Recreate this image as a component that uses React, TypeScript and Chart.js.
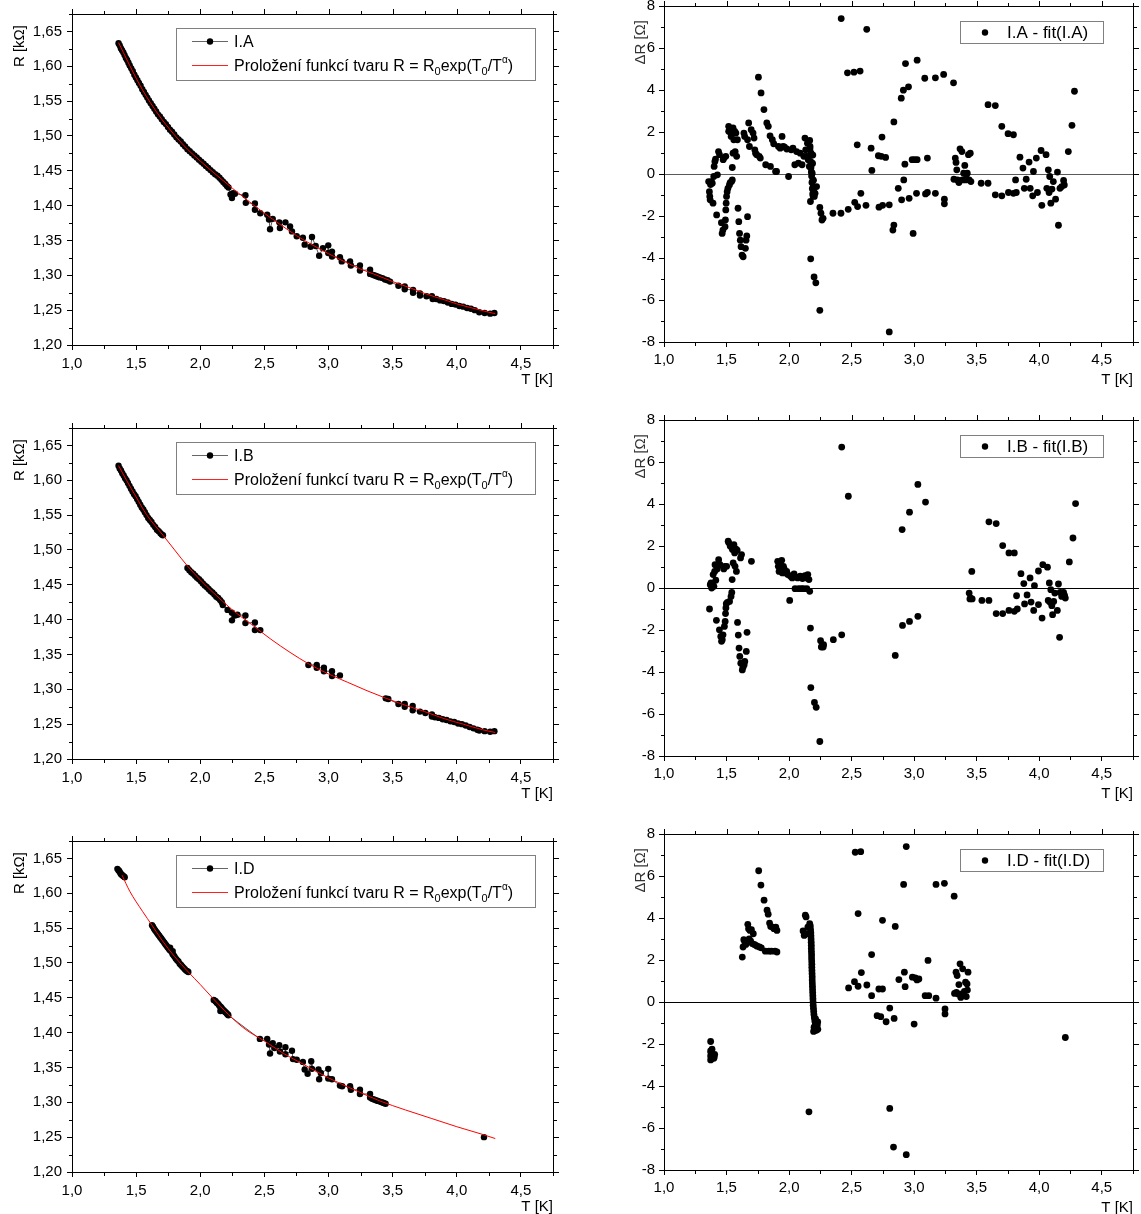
import React, { useEffect, useRef } from 'react';
import { Chart, registerables } from 'chart.js';

Chart.register(...registerables);

const FONT_FAMILY = '"Liberation Sans", Arial, Helvetica, sans-serif';

type Pt = [number, number | null];
type Seg = { t: string; s?: 'sub' | 'sup' };

// ---------- axis ticks ----------
const T_TICKS = [1.0, 1.5, 2.0, 2.5, 3.0, 3.5, 4.0, 4.5];
const T_MINOR = [1.25, 1.75, 2.25, 2.75, 3.25, 3.75, 4.25, 4.75];
const T_RANGE = [1.0, 4.75];
const R_TICKS = [1.2, 1.25, 1.3, 1.35, 1.4, 1.45, 1.5, 1.55, 1.6, 1.65];
const R_MINOR = [1.225, 1.275, 1.325, 1.375, 1.425, 1.475, 1.525, 1.575, 1.625, 1.675];
const R_RANGE = [1.2, 1.675];
const DR_TICKS = [-8, -6, -4, -2, 0, 2, 4, 6, 8];
const DR_MINOR = [-7, -5, -3, -1, 1, 3, 5, 7];
const DR_RANGE = [-8, 8];

// ---------- labels ----------
const X_TITLE = 'T [K]';
const R_TITLE = 'R [kΩ]';
const DR_TITLE = 'ΔR [Ω]';
const SERIES_NAMES = ['I.A', 'I.B', 'I.D'];
const FIT_LABEL: Seg[] = [
  { t: 'Proložení funkcí tvaru R = R' },
  { t: '0', s: 'sub' },
  { t: 'exp(T' },
  { t: '0', s: 'sub' },
  { t: '/T' },
  { t: 'α', s: 'sup' },
  { t: ')' },
];

// ---------- I.A ----------
const IA_DATA: Pt[] = [
  [1.363, 1.633], [1.372, 1.630], [1.381, 1.626], [1.390, 1.623], [1.400, 1.620], [1.410, 1.616], [1.420, 1.612],
  [1.430, 1.609], [1.440, 1.605], [1.450, 1.601], [1.462, 1.597], [1.474, 1.593], [1.486, 1.588], [1.498, 1.584],
  [1.510, 1.580], [1.522, 1.576], [1.535, 1.572], [1.548, 1.567], [1.561, 1.563], [1.574, 1.559], [1.587, 1.555],
  [1.600, 1.551], [1.614, 1.547], [1.628, 1.543], [1.642, 1.539], [1.656, 1.535], [1.670, 1.531], [1.685, 1.528],
  [1.700, 1.524], [1.716, 1.520], [1.732, 1.517], [1.748, 1.513], [1.764, 1.509], [1.780, 1.506], [1.797, 1.502],
  [1.814, 1.498], [1.831, 1.495], [1.848, 1.492], [1.865, 1.488], [1.882, 1.485], [1.900, 1.481], [1.918, 1.478],
  [1.936, 1.475], [1.954, 1.472], [1.972, 1.469], [1.990, 1.466], [2.008, 1.463], [2.026, 1.460], [2.044, 1.457],
  [2.062, 1.454], [2.080, 1.451], [2.098, 1.448], [2.116, 1.445], [2.134, 1.443], [2.150, 1.440], [2.165, 1.437],
  [2.180, 1.434], [2.195, 1.431], [2.208, 1.428], [2.220, 1.426], [2.236, 1.416], [2.247, 1.411], [2.255, 1.418],
  [2.270, 1.417], [2.352, 1.415], [2.355, 1.404], [2.426, 1.403], [2.426, 1.394], [2.468, 1.389], [2.522, 1.387],
  [2.536, 1.380], [2.544, 1.366], [2.565, 1.381], [2.616, 1.376], [2.621, 1.368], [2.664, 1.376], [2.700, 1.370],
  [2.715, 1.363], [2.752, 1.356], [2.800, 1.354], [2.814, 1.344], [2.860, 1.341], [2.871, 1.355], [2.900, 1.342],
  [2.927, 1.328], [2.956, 1.339], [2.998, 1.343], [2.998, 1.332], [3.027, 1.334], [3.027, 1.327], [3.089, 1.326],
  [3.103, 1.320], [3.168, 1.320], [3.174, 1.314], [3.245, 1.314], [3.245, 1.307], [3.324, 1.308], [3.324, 1.302],
  [3.340, 1.301], [3.355, 1.300], [3.370, 1.299], [3.385, 1.298], [3.400, 1.297], [3.420, 1.296], [3.440, 1.294],
  [3.460, 1.293], [3.480, 1.291], [3.545, 1.285], [3.594, 1.284], [3.594, 1.280], [3.659, 1.279], [3.659, 1.275],
  [3.713, 1.274], [3.713, 1.271], [3.764, 1.270], [3.806, 1.270], [3.812, 1.266], [3.840, 1.266], [3.870, 1.264],
  [3.900, 1.263], [3.930, 1.261], [3.960, 1.259], [3.990, 1.258], [4.020, 1.256], [4.050, 1.255], [4.080, 1.253],
  [4.110, 1.252], [4.140, 1.250], [4.175, 1.247], [4.217, 1.246], [4.260, 1.245], [4.293, 1.246],
];
const IA_FIT: Pt[] = [
  [1.363, 1.634], [1.40, 1.620], [1.45, 1.601], [1.50, 1.583], [1.55, 1.566], [1.61, 1.548], [1.70, 1.524],
  [1.82, 1.497], [1.90, 1.481], [2.00, 1.464], [2.10, 1.448], [2.25, 1.425], [2.40, 1.403], [2.50, 1.389],
  [2.63, 1.372], [2.75, 1.357], [2.88, 1.343], [3.00, 1.331], [3.12, 1.320], [3.25, 1.309], [3.35, 1.302],
  [3.50, 1.291], [3.65, 1.281], [3.75, 1.274], [3.90, 1.265], [4.00, 1.259], [4.10, 1.254], [4.25, 1.247], [4.30, 1.245],
];
const IA_RES: Pt[] = [
  [1.357, -0.36], [1.363, -0.84], [1.366, -1.07], [1.369, -1.23], [1.372, -0.5], [1.378, -0.36], [1.386, -0.44],
  [1.392, -1.39], [1.398, -0.12], [1.401, 0.36], [1.407, 0.60], [1.412, 0.71], [1.421, -1.95], [1.427, -0.04],
  [1.436, 1.07], [1.444, 0.92], [1.459, -2.32], [1.465, -2.83], [1.471, -2.67], [1.473, 0.68], [1.479, 0.76],
  [1.488, -2.51], [1.491, -2.19], [1.494, -1.71], [1.494, 0.84], [1.497, -1.39], [1.500, -1.07], [1.505, -0.84],
  [1.511, -0.68], [1.517, 2.27], [1.517, 2.03], [1.523, -0.52], [1.529, -0.41], [1.534, 1.95], [1.537, 1.79],
  [1.540, -0.36], [1.546, 0.31], [1.546, -0.28], [1.552, 2.19], [1.552, 0.99], [1.558, 1.63], [1.566, 2.03],
  [1.569, 1.07], [1.575, 1.95], [1.581, 0.84], [1.587, 1.63], [1.592, -1.63], [1.598, -2.27], [1.604, -2.83],
  [1.610, -3.15], [1.616, -3.46], [1.624, -3.86], [1.633, -3.94], [1.639, 1.95], [1.645, 1.79], [1.651, -3.54],
  [1.656, -3.15], [1.662, -2.95], [1.668, -2.03], [1.668, 1.63], [1.677, 2.43], [1.683, 1.31], [1.697, 2.11],
  [1.712, 1.95], [1.720, 1.71], [1.726, 1.15], [1.732, 0.99], [1.741, 0.92], [1.755, 4.61], [1.761, 0.84],
  [1.770, 0.76], [1.776, 3.86], [1.799, 3.07], [1.813, 0.44], [1.822, 2.43], [1.834, 2.27], [1.848, 1.82],
  [1.851, 0.36], [1.866, 1.63], [1.877, 1.44], [1.892, 0.12], [1.900, 0.12], [1.915, 1.31], [1.929, 1.23],
  [1.944, 1.79], [1.953, 1.31], [1.964, 1.28], [1.982, 1.19], [1.996, -0.12], [2.017, 1.15], [2.031, 1.23],
  [2.046, 0.44], [2.060, 1.07], [2.075, 0.52], [2.089, 0.99], [2.104, 0.44], [2.118, 0.84], [2.127, 1.71],
  [2.133, 1.15], [2.139, 0.84], [2.147, 1.47], [2.153, 0.68], [2.162, 0.36], [2.165, 1.6], [2.167, 1.2],
  [2.168, 1.31], [2.170, 0.9], [2.171, -1.31], [2.172, 0.6], [2.173, -4.04], [2.175, 0.3], [2.176, 0.99],
  [2.178, 0.1], [2.180, -0.1], [2.182, 0.52], [2.183, -0.4], [2.185, 0.04], [2.186, -0.7], [2.188, 0.5],
  [2.189, -0.95], [2.190, 0.9], [2.191, -0.28], [2.192, -1.05], [2.194, -0.60], [2.195, -0.3], [2.197, -0.84],
  [2.200, -4.90], [2.202, -1.07], [2.208, -0.92], [2.214, -5.18], [2.220, -0.60], [2.246, -1.59], [2.246, -6.49],
  [2.255, -1.87], [2.263, -2.19], [2.272, -2.11], [2.351, -1.87], [2.415, -1.87], [2.417, 7.40], [2.467, 4.82],
  [2.473, -1.68], [2.519, 4.85], [2.525, -1.35], [2.545, 1.39], [2.548, -1.55], [2.568, 4.90], [2.574, -0.92],
  [2.615, -1.49], [2.621, 6.89], [2.656, 1.23], [2.662, 0.17], [2.714, 0.87], [2.719, -1.58], [2.737, 0.84],
  [2.743, 1.76], [2.748, -1.49], [2.772, 0.79], [2.801, -1.47], [2.801, -7.52], [2.830, -2.67], [2.838, -2.43],
  [2.838, 2.48], [2.873, -0.68], [2.897, 3.61], [2.900, -1.23], [2.914, 3.99], [2.917, -0.28], [2.926, 0.47],
  [2.931, 5.26], [2.955, 4.15], [2.960, -1.16], [2.984, 0.68], [2.992, -2.83], [3.004, 0.68], [3.024, 5.42],
  [3.019, -0.92], [3.024, 0.68], [3.085, 4.56], [3.091, -0.95], [3.106, 0.76], [3.106, -0.88], [3.170, 4.58],
  [3.170, -0.92], [3.236, 4.74], [3.242, -1.20], [3.242, -1.42], [3.315, 4.34], [3.318, -0.25], [3.329, 0.76],
  [3.335, 0.55], [3.341, 0.20], [3.347, -0.28], [3.358, -0.41], [3.367, 1.20], [3.382, 1.07], [3.387, -0.28],
  [3.396, 0.04], [3.405, 0.41], [3.411, -0.28], [3.417, -0.04], [3.425, 0.04], [3.434, 0.92], [3.440, -0.28],
  [3.449, 0.99], [3.454, -0.36], [3.536, -0.44], [3.591, 3.30], [3.591, -0.44], [3.649, 3.26], [3.649, -0.99],
  [3.701, 2.27], [3.701, -1.04], [3.751, 1.92], [3.754, -0.88], [3.794, 1.87], [3.794, -0.92], [3.811, -0.28],
  [3.817, -0.88], [3.846, 0.80], [3.870, 0.28], [3.881, -0.68], [3.896, -0.25], [3.919, 0.57], [3.928, -0.68],
  [3.948, -1.04], [3.954, 0.12], [3.977, 0.76], [3.986, -0.88], [4.015, 1.12], [4.021, -1.49], [4.055, 0.92],
  [4.061, -0.68], [4.073, 0.20], [4.079, -0.88], [4.084, -0.12], [4.093, -1.39], [4.102, -0.72], [4.113, -0.36],
  [4.131, -1.20], [4.146, 0.09], [4.154, -2.44], [4.166, -0.68], [4.180, -0.60], [4.195, -0.31], [4.201, -0.52],
  [4.233, 1.07], [4.262, 2.32], [4.282, 3.94],
];

// ---------- I.B ----------
const IB_DATA: Pt[] = [
  [1.363, 1.621], [1.372, 1.617], [1.382, 1.614], [1.392, 1.610], [1.403, 1.607], [1.414, 1.603], [1.425, 1.600],
  [1.436, 1.596], [1.448, 1.592], [1.460, 1.588], [1.472, 1.584], [1.484, 1.580], [1.496, 1.577], [1.508, 1.573],
  [1.520, 1.569], [1.532, 1.565], [1.544, 1.561], [1.556, 1.558], [1.568, 1.554], [1.581, 1.550], [1.594, 1.546],
  [1.607, 1.543], [1.620, 1.540], [1.634, 1.536], [1.648, 1.533], [1.662, 1.529], [1.676, 1.527], [1.690, 1.524],
  [1.700, 1.522], [1.709, 1.521], [1.800, null],
  [1.900, 1.474], [1.915, 1.471], [1.930, 1.468], [1.945, 1.466], [1.960, 1.463], [1.975, 1.460], [1.990, 1.458],
  [2.005, 1.455], [2.020, 1.452], [2.035, 1.449], [2.050, 1.447], [2.065, 1.444], [2.080, 1.441], [2.095, 1.439],
  [2.110, 1.436], [2.125, 1.433], [2.140, 1.431], [2.155, 1.428], [2.168, 1.425], [2.176, 1.421], [2.213, 1.414],
  [2.247, 1.410], [2.247, 1.399], [2.270, 1.406], [2.290, 1.407], [2.352, 1.406], [2.352, 1.395], [2.426, 1.396],
  [2.426, 1.385], [2.468, 1.385], [2.600, null],
  [2.843, 1.335], [2.908, 1.335], [2.908, 1.331], [2.964, 1.331], [2.964, 1.326], [3.027, 1.326], [3.027, 1.319],
  [3.089, 1.320], [3.300, null],
  [3.446, 1.287], [3.466, 1.286], [3.545, 1.279], [3.594, 1.279], [3.594, 1.275], [3.656, 1.276], [3.656, 1.270],
  [3.713, 1.268], [3.755, 1.266], [3.806, 1.264], [3.806, 1.261], [3.830, 1.260], [3.860, 1.259], [3.890, 1.257],
  [3.920, 1.256], [3.950, 1.254], [3.980, 1.253], [4.010, 1.251], [4.040, 1.250], [4.070, 1.248], [4.100, 1.246],
  [4.130, 1.244], [4.160, 1.242], [4.175, 1.241], [4.217, 1.240], [4.260, 1.239], [4.293, 1.240],
];
const IB_FIT: Pt[] = [
  [1.363, 1.621], [1.425, 1.600], [1.50, 1.576], [1.58, 1.551], [1.71, 1.521], [1.80, 1.500], [1.90, 1.477],
  [2.00, 1.457], [2.10, 1.439], [2.25, 1.414], [2.40, 1.393], [2.55, 1.372], [2.70, 1.353], [2.85, 1.336],
  [3.00, 1.322], [3.15, 1.310], [3.30, 1.298], [3.45, 1.287], [3.60, 1.277], [3.75, 1.268], [3.90, 1.258],
  [4.05, 1.250], [4.20, 1.242], [4.30, 1.238],
];
const IB_RES: Pt[] = [
  [1.364, -1.00], [1.370, 0.16], [1.376, 0.24], [1.381, 0.00], [1.387, 0.21], [1.393, 0.64], [1.399, 0.08],
  [1.405, 0.79], [1.408, 1.11], [1.414, 0.37], [1.419, -1.54], [1.425, 0.91], [1.431, 1.03], [1.437, 1.35],
  [1.443, -1.99], [1.448, 1.11], [1.454, -2.31], [1.460, -2.54], [1.466, -2.46], [1.472, -2.23], [1.478, 0.91],
  [1.483, -1.83], [1.486, 1.03], [1.489, -1.59], [1.492, -1.22], [1.495, -0.95], [1.498, -0.75], [1.501, 1.03],
  [1.507, -0.68], [1.513, 2.23], [1.518, 2.15], [1.524, -0.64], [1.530, 1.99], [1.536, -0.40], [1.542, -0.21],
  [1.545, 0.40], [1.547, 1.83], [1.553, 1.19], [1.559, 2.07], [1.565, 1.67], [1.568, 1.03], [1.574, 1.86],
  [1.579, 0.79], [1.585, 1.80], [1.588, -1.64], [1.594, -2.24], [1.600, -2.86], [1.606, -3.26], [1.612, 1.43],
  [1.614, -3.58], [1.620, 1.59], [1.626, -3.90], [1.632, -3.77], [1.641, -3.66], [1.646, -3.50], [1.658, -3.02],
  [1.664, -2.11], [1.699, 1.27],
  [1.909, 1.27], [1.914, 1.03], [1.920, 0.79], [1.926, 1.16], [1.932, 0.91], [1.941, 1.32], [1.946, 0.72],
  [1.955, 1.03], [1.961, 0.91], [1.970, 0.72], [1.981, 0.79], [1.990, 0.64], [2.005, -0.59], [2.011, 0.56],
  [2.025, 0.48], [2.040, 0.67], [2.048, -0.03], [2.054, 0.52], [2.069, 0.48], [2.077, -0.03], [2.089, 0.56],
  [2.098, -0.03], [2.107, 0.45], [2.115, -0.03], [2.127, 0.59], [2.136, 0.48], [2.142, -0.03], [2.150, 0.64],
  [2.159, 0.40], [2.165, -0.16], [2.171, -1.91], [2.174, -4.74], [2.203, -5.45], [2.217, -5.68], [2.246, -7.31],
  [2.252, -2.51], [2.258, -2.81], [2.273, -2.81], [2.276, -2.70], [2.354, -2.46], [2.421, -2.23], [2.421, 6.71],
  [2.474, 4.37], [2.849, -3.21], [2.904, 2.78], [2.907, -1.78], [2.963, 3.61], [2.963, -1.59], [3.030, 4.93],
  [3.030, -1.35], [3.091, 4.09],
  [3.440, -0.24], [3.446, -0.52], [3.452, -0.48], [3.461, 0.79], [3.464, -0.52], [3.542, -0.59], [3.598, 3.15],
  [3.598, -0.59], [3.656, 3.07], [3.656, -1.22], [3.708, 2.02], [3.708, -1.22], [3.758, 1.67], [3.758, -1.07],
  [3.801, 1.67], [3.801, -1.11], [3.819, -0.37], [3.825, -1.00], [3.854, 0.68], [3.877, 0.21], [3.883, -0.76],
  [3.903, -0.33], [3.927, 0.48], [3.935, -0.67], [3.956, -1.07], [3.962, 0.11], [3.994, 0.81], [3.994, -0.79],
  [4.023, -1.43], [4.029, 1.11], [4.066, 0.99], [4.072, -0.59], [4.081, 0.24], [4.087, -0.68], [4.093, -0.08],
  [4.101, -0.84], [4.107, -1.27], [4.116, -0.64], [4.125, -0.24], [4.145, -1.07], [4.154, 0.19], [4.163, -2.35],
  [4.168, -0.21], [4.180, -0.40], [4.195, -0.21], [4.203, -0.35], [4.209, -0.48], [4.241, 1.24], [4.270, 2.38],
  [4.291, 4.02],
];

// ---------- I.D ----------
const ID_DATA: Pt[] = [
  [1.354, 1.635], [1.362, 1.633], [1.368, 1.632], [1.374, 1.630], [1.380, 1.628], [1.386, 1.627], [1.392, 1.626],
  [1.398, 1.625], [1.404, 1.624], [1.411, 1.623], [1.500, null],
  [1.624, 1.554], [1.632, 1.552], [1.640, 1.549], [1.648, 1.547], [1.656, 1.545], [1.664, 1.543], [1.672, 1.541],
  [1.680, 1.539], [1.688, 1.537], [1.696, 1.535], [1.704, 1.533], [1.712, 1.531], [1.720, 1.529], [1.728, 1.527],
  [1.736, 1.525], [1.744, 1.523], [1.752, 1.521], [1.760, 1.519], [1.765, 1.522], [1.768, 1.518], [1.776, 1.516],
  [1.784, 1.513], [1.785, 1.517], [1.792, 1.511], [1.800, 1.509], [1.810, 1.506], [1.820, 1.504], [1.830, 1.502],
  [1.840, 1.499], [1.850, 1.497], [1.860, 1.495], [1.870, 1.493], [1.880, 1.491], [1.890, 1.489], [1.900, 1.488],
  [1.907, 1.487], [2.000, null],
  [2.105, 1.447], [2.112, 1.446], [2.120, 1.445], [2.128, 1.443], [2.136, 1.442], [2.144, 1.440], [2.152, 1.438],
  [2.157, 1.431], [2.160, 1.437], [2.168, 1.435], [2.176, 1.433], [2.184, 1.432], [2.192, 1.430], [2.200, 1.429],
  [2.208, 1.427], [2.215, 1.426], [2.219, 1.425],
  [2.465, 1.391], [2.522, 1.391], [2.536, 1.383], [2.544, 1.370], [2.565, 1.385], [2.579, 1.378], [2.616, 1.382],
  [2.621, 1.373], [2.664, 1.379], [2.664, 1.369], [2.715, 1.374], [2.723, 1.362], [2.752, 1.361], [2.800, 1.358],
  [2.814, 1.347], [2.837, 1.341], [2.865, 1.359], [2.871, 1.348], [2.922, 1.347], [2.927, 1.333], [2.940, 1.342],
  [2.998, 1.348], [2.998, 1.334], [3.027, 1.333], [3.089, 1.324], [3.106, 1.323], [3.168, 1.323], [3.174, 1.318],
  [3.245, 1.318], [3.245, 1.312], [3.324, 1.312], [3.324, 1.307], [3.340, 1.305], [3.355, 1.304], [3.370, 1.303],
  [3.385, 1.302], [3.400, 1.301], [3.415, 1.300], [3.430, 1.299], [3.445, 1.298], [3.800, null],
  [4.212, 1.250],
];
const ID_FIT: Pt[] = [
  [1.39, 1.626], [1.45, 1.603], [1.55, 1.574], [1.624, 1.554], [1.70, 1.533], [1.80, 1.509], [1.907, 1.487],
  [2.00, 1.469], [2.10, 1.449], [2.22, 1.426], [2.35, 1.405], [2.50, 1.388], [2.65, 1.370], [2.80, 1.355],
  [3.00, 1.335], [3.20, 1.318], [3.40, 1.302], [3.60, 1.289], [3.80, 1.277], [4.00, 1.265], [4.20, 1.254],
  [4.30, 1.248],
];
const ID_RES: Pt[] = [
  [1.373, -1.88], [1.373, -2.33], [1.373, -2.57], [1.373, -2.76], [1.376, -2.40], [1.379, -2.46], [1.381, -2.62],
  [1.384, -2.68], [1.384, -2.25], [1.388, -2.52], [1.393, -2.57], [1.396, -2.64], [1.399, -2.68], [1.402, -2.60],
  [1.405, -2.49],
  [1.626, 2.14], [1.632, 2.62], [1.638, 2.97], [1.647, 2.86], [1.655, 2.74], [1.670, 3.70], [1.676, 3.49],
  [1.681, 3.01], [1.687, 3.41], [1.693, 2.90], [1.699, 3.44], [1.705, 2.78], [1.714, 3.25], [1.722, 2.74],
  [1.734, 2.70], [1.745, 2.66], [1.757, 6.25], [1.763, 2.62], [1.775, 5.57], [1.778, 2.58], [1.800, 4.85],
  [1.810, 2.42], [1.824, 4.37], [1.833, 4.18], [1.839, 2.42], [1.844, 3.76], [1.853, 3.60], [1.859, 2.42],
  [1.868, 3.57], [1.879, 3.49], [1.888, 2.42], [1.894, 3.57], [1.903, 3.41], [1.903, 2.38],
  [2.112, 3.38], [2.121, 3.17], [2.130, 4.13], [2.136, 4.05], [2.142, 3.25], [2.150, 3.57], [2.159, -5.23],
  [2.165, 3.73], [2.170, 3.62], [2.172, 3.45], [2.174, 3.30], [2.175, 3.15], [2.176, 3.00], [2.177, 2.85],
  [2.178, 2.70], [2.178, 2.55], [2.179, 2.40], [2.180, 2.25], [2.180, 2.10], [2.181, 1.95], [2.182, 1.80],
  [2.182, 1.65], [2.183, 1.50], [2.184, 1.35], [2.185, 1.20], [2.185, 1.05], [2.186, 0.90], [2.187, 0.75],
  [2.188, 0.60], [2.189, 0.45], [2.190, 0.30], [2.191, 0.15], [2.192, 0.00], [2.193, -0.15], [2.195, -0.30],
  [2.197, -0.45], [2.199, -0.60], [2.202, -0.75], [2.206, -0.90], [2.210, -1.05], [2.214, -1.20], [2.218, -1.35],
  [2.222, -1.25], [2.226, -1.10], [2.229, -0.95], [2.230, -1.30], [2.196, -1.40], [2.200, -1.20], [2.205, -1.35],
  [2.212, -0.80], [2.220, -0.95],
  [2.476, 0.67], [2.523, 0.97], [2.529, 7.13], [2.552, 4.21], [2.552, 0.75], [2.573, 7.16], [2.578, 1.40],
  [2.622, 0.81], [2.660, 2.26], [2.660, 0.30], [2.704, -0.65], [2.718, 0.62], [2.733, -0.70], [2.747, 0.62],
  [2.747, 3.89], [2.776, -0.94], [2.805, -5.07], [2.805, -0.29], [2.835, -6.91], [2.840, -0.78], [2.849, 3.60],
  [2.878, 1.07], [2.916, 5.60], [2.922, 1.42], [2.928, 0.73], [2.937, 7.40], [2.937, -7.27], [2.986, 1.18],
  [3.000, -1.05], [3.009, 1.15], [3.023, 1.05], [3.038, 1.10], [3.088, 0.30], [3.111, 1.98], [3.117, 0.30],
  [3.175, 5.60], [3.175, 0.18], [3.242, 5.65], [3.247, -0.33], [3.247, -0.57], [3.320, 5.04], [3.323, 0.41],
  [3.335, 1.42], [3.338, 0.46], [3.344, 1.26], [3.352, 0.38], [3.358, 0.83], [3.367, 1.82], [3.373, 0.22],
  [3.379, 0.38], [3.388, 1.58], [3.393, 0.30], [3.402, 0.51], [3.411, 0.94], [3.417, 0.26], [3.423, 0.86],
  [3.426, 0.57], [3.431, 1.42], [4.209, -1.69],
];

// ---------- panel layout ----------
type LeftPanel = { kind: 'R'; top: number; name: string; data: Pt[]; fit: Pt[] };
type RightPanel = { kind: 'D'; top: number; name: string; res: Pt[]; zero: string };
type PanelSpec = LeftPanel | RightPanel;

const PANELS: PanelSpec[] = [
  { kind: 'R', top: 14, name: SERIES_NAMES[0], data: IA_DATA, fit: IA_FIT },
  { kind: 'D', top: 6, name: SERIES_NAMES[0], res: IA_RES, zero: '#5a5a5a' },
  { kind: 'R', top: 428, name: SERIES_NAMES[1], data: IB_DATA, fit: IB_FIT },
  { kind: 'D', top: 420, name: SERIES_NAMES[1], res: IB_RES, zero: '#000' },
  { kind: 'R', top: 841, name: SERIES_NAMES[2], data: ID_DATA, fit: ID_FIT },
  { kind: 'D', top: 834, name: SERIES_NAMES[2], res: ID_RES, zero: '#000' },
];

function geometry(p: PanelSpec) {
  if (p.kind === 'R') {
    return { left: 0, top: p.top - 14, w: 568, h: 14 + 331 + 52, padTop: 14, padRight: 15, yW: 72, xH: 52 };
  }
  return { left: 600, top: p.top - 6, w: 541, h: 6 + 336 + 52, padTop: 6, padRight: 8, yW: 64, xH: 52 };
}

const toXY = (arr: Pt[]) => arr.map(([x, y]) => ({ x, y }));

function drawSegs(ctx: CanvasRenderingContext2D, segs: Seg[], x0: number, cy: number, size0 = 16) {
  const base = cy + 5.5;
  let x = x0;
  ctx.textAlign = 'left';
  ctx.textBaseline = 'alphabetic';
  ctx.fillStyle = '#000';
  for (const s of segs) {
    let size = size0;
    let by = base;
    if (s.s === 'sub') { size = 11; by = base + 4; }
    else if (s.s === 'sup') { size = 10; by = base - 8; }
    ctx.font = `${size}px ${FONT_FAMILY}`;
    ctx.fillText(s.t, x, by);
    x += ctx.measureText(s.t).width;
  }
}

// frame (top/right borders, minor ticks, mirrored ticks) and the rotated y-axis title
function framePlugin(xMajor: number[], xMinor: number[], yMajor: number[], yMinor: number[], yTitle: string, titleDx: number, titleDy: number, titleColor: string) {
  return {
    id: 'frameTicks',
    afterDraw(chart: any) {
      const { ctx, chartArea: a, scales } = chart;
      const sx = scales.x;
      const sy = scales.y;
      const L = Math.round(a.left);
      const R = Math.round(a.right);
      const T = Math.round(a.top);
      const B = Math.round(a.bottom);
      const px = (v: number) => Math.round(sx.getPixelForValue(v)) + 0.5;
      const py = (v: number) => Math.round(sy.getPixelForValue(v)) + 0.5;
      ctx.save();
      ctx.strokeStyle = '#000';
      ctx.lineWidth = 1;
      ctx.beginPath();
      ctx.moveTo(L, T + 0.5); ctx.lineTo(R + 1, T + 0.5);
      ctx.moveTo(R + 0.5, T); ctx.lineTo(R + 0.5, B + 1);
      xMajor.forEach((v) => { const p = px(v); ctx.moveTo(p, T); ctx.lineTo(p, T - 5); });
      xMinor.forEach((v) => {
        const p = px(v);
        ctx.moveTo(p, T); ctx.lineTo(p, T - 3);
        ctx.moveTo(p, B + 1); ctx.lineTo(p, B + 4);
      });
      yMajor.forEach((v) => { const p = py(v); ctx.moveTo(R + 1, p); ctx.lineTo(R + 6, p); });
      yMinor.forEach((v) => {
        const p = py(v);
        ctx.moveTo(R + 1, p); ctx.lineTo(R + 4, p);
        ctx.moveTo(L, p); ctx.lineTo(L - 3, p);
      });
      ctx.stroke();

      // y-axis title, rotated, its end near the top of the plot
      ctx.translate(a.left - titleDx, a.top + titleDy);
      ctx.rotate(-Math.PI / 2);
      ctx.font = `15px ${FONT_FAMILY}`;
      ctx.fillStyle = titleColor;
      ctx.textAlign = 'right';
      ctx.textBaseline = 'middle';
      ctx.fillText(yTitle, 0, 0);
      ctx.restore();
    },
  };
}

function legendPlugin(p: PanelSpec) {
  return {
    id: 'boxLegend',
    afterDraw(chart: any) {
      const { ctx, chartArea: a } = chart;
      ctx.save();
      if (p.kind === 'R') {
        const bx = Math.round(a.left + 104), by = Math.round(a.top + 14), bw = 359, bh = 52;
        ctx.fillStyle = '#fff';
        ctx.fillRect(bx, by, bw, bh);
        ctx.strokeStyle = '#808080';
        ctx.lineWidth = 1;
        ctx.strokeRect(bx + 0.5, by + 0.5, bw, bh);
        const y1 = Math.round(a.top + 27) + 0.5;
        const y2 = Math.round(a.top + 51) + 0.5;
        ctx.lineWidth = 1;
        ctx.strokeStyle = '#666';
        ctx.beginPath(); ctx.moveTo(a.left + 120, y1); ctx.lineTo(a.left + 156, y1); ctx.stroke();
        ctx.fillStyle = '#000';
        ctx.beginPath(); ctx.arc(a.left + 138, y1, 3.2, 0, Math.PI * 2); ctx.fill();
        ctx.strokeStyle = '#ff2020';
        ctx.lineWidth = 1.2;
        ctx.beginPath(); ctx.moveTo(a.left + 120, y2); ctx.lineTo(a.left + 156, y2); ctx.stroke();
        drawSegs(ctx, [{ t: p.name }], a.left + 162, y1);
        drawSegs(ctx, FIT_LABEL, a.left + 162, y2);
      } else {
        const bx = Math.round(a.left + 296), by = Math.round(a.top + 15), bw = 143, bh = 22;
        ctx.fillStyle = '#fff';
        ctx.fillRect(bx, by, bw, bh);
        ctx.strokeStyle = '#808080';
        ctx.lineWidth = 1;
        ctx.strokeRect(bx + 0.5, by + 0.5, bw, bh);
        const cy = a.top + 26.5;
        ctx.fillStyle = '#000';
        ctx.beginPath(); ctx.arc(a.left + 321, cy, 3.2, 0, Math.PI * 2); ctx.fill();
        drawSegs(ctx, [{ t: `${p.name} - fit(${p.name})` }], a.left + 343, cy, 17);
      }
      ctx.restore();
    },
  };
}

function makeChart(canvas: HTMLCanvasElement, p: PanelSpec) {
  const g = geometry(p);
  const isR = p.kind === 'R';
  const tickFont = { family: FONT_FAMILY, size: 15 };
  const yTicks = isR ? R_TICKS : DR_TICKS;
  const yMinor = isR ? R_MINOR : DR_MINOR;
  const yRange = isR ? R_RANGE : DR_RANGE;

  const datasets: any[] = p.kind === 'R'
    ? [
        {
          label: p.name,
          data: toXY(p.data),
          showLine: true,
          borderColor: '#555',
          borderWidth: 1,
          pointRadius: 3.2,
          pointBackgroundColor: '#000',
          pointBorderColor: '#000',
          pointBorderWidth: 0,
          order: 1,
        },
        {
          label: 'fit',
          data: toXY(p.fit),
          showLine: true,
          borderColor: '#ff0000',
          borderWidth: 1,
          pointRadius: 0,
          cubicInterpolationMode: 'monotone',
          order: 0,
        },
      ]
    : [
        {
          label: `${p.name} - fit(${p.name})`,
          data: toXY(p.res),
          showLine: false,
          pointRadius: 3.4,
          pointBackgroundColor: '#000',
          pointBorderColor: '#000',
          pointBorderWidth: 0,
        },
      ];

  const zero = p.kind === 'D' ? p.zero : '#000';

  return new Chart(canvas, {
    type: 'scatter',
    data: { datasets },
    options: {
      responsive: false,
      animation: false,
      devicePixelRatio: 1,
      events: [],
      layout: { padding: { top: g.padTop, right: g.padRight, left: 0, bottom: 0 } },
      plugins: { legend: { display: false }, tooltip: { enabled: false } },
      scales: {
        x: {
          type: 'linear',
          min: T_RANGE[0],
          max: T_RANGE[1],
          afterBuildTicks: (s: any) => { s.ticks = T_TICKS.map((v) => ({ value: v })); },
          afterFit: (s: any) => { s.height = g.xH; s.paddingLeft = 0; s.paddingRight = 0; },
          ticks: {
            autoSkip: false,
            maxRotation: 0,
            padding: isR ? 5 : 3.5,
            color: '#000',
            font: tickFont,
            callback: (v: any) => Number(v).toFixed(1).replace('.', ','),
          },
          grid: { display: true, drawOnChartArea: false, drawTicks: true, tickLength: 5, tickColor: '#000', tickWidth: 1 },
          border: { display: true, color: '#000', width: 1 },
          title: {
            display: true,
            text: X_TITLE,
            align: 'end',
            color: '#000',
            font: { family: FONT_FAMILY, size: 15 },
            padding: { top: 0, bottom: isR ? 8 : 5 },
          },
        },
        y: {
          type: 'linear',
          min: yRange[0],
          max: yRange[1],
          afterBuildTicks: (s: any) => { s.ticks = yTicks.map((v) => ({ value: v })); },
          afterFit: (s: any) => { s.width = g.yW; s.paddingTop = 0; s.paddingBottom = 0; },
          ticks: {
            autoSkip: false,
            padding: isR ? 5 : 4,
            color: '#000',
            font: tickFont,
            callback: (v: any) => (isR ? Number(v).toFixed(2).replace('.', ',') : String(Math.round(Number(v)))),
          },
          grid: isR
            ? { display: true, drawOnChartArea: false, drawTicks: true, tickLength: 5, tickColor: '#000', tickWidth: 1 }
            : {
                display: true,
                drawOnChartArea: true,
                drawTicks: true,
                tickLength: 5,
                tickColor: '#000',
                tickWidth: 1,
                lineWidth: 1,
                color: (c: any) => (c.tick && c.tick.value === 0 ? zero : 'rgba(0,0,0,0)'),
              },
          border: { display: true, color: '#000', width: 1 },
          title: { display: false },
        },
      },
    } as any,
    plugins: [
      framePlugin(
        T_TICKS, T_MINOR, yTicks, yMinor,
        isR ? R_TITLE : DR_TITLE,
        isR ? 52 : 23,
        isR ? 11 : 14,
        isR ? '#000' : '#333',
      ),
      legendPlugin(p),
    ],
  });
}

function Panel({ spec }: { spec: PanelSpec }) {
  const ref = useRef<HTMLCanvasElement | null>(null);
  const g = geometry(spec);
  useEffect(() => {
    const c = ref.current;
    if (!c) return;
    const chart = makeChart(c, spec);
    return () => chart.destroy();
  }, [spec]);
  return (
    <canvas
      ref={ref}
      width={g.w}
      height={g.h}
      style={{ position: 'absolute', left: g.left, top: g.top, width: g.w, height: g.h }}
    />
  );
}

export default function App() {
  return (
    <div
      style={{
        position: 'absolute',
        left: 0,
        top: 0,
        width: 1141,
        height: 1214,
        overflow: 'hidden',
        background: '#fff',
      }}
    >
      {PANELS.map((p, i) => (
        <Panel key={i} spec={p} />
      ))}
    </div>
  );
}
